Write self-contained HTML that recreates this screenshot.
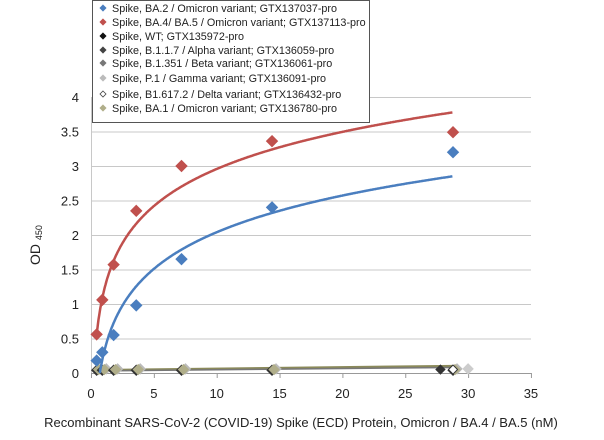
<!DOCTYPE html>
<html><head><meta charset="utf-8"><style>
body{margin:0;background:#fff;width:604px;height:440px;overflow:hidden}
svg{display:block;font-family:"Liberation Sans",sans-serif}
</style></head><body>
<svg id="s" width="604" height="440" xmlns="http://www.w3.org/2000/svg">
<g id="grid" stroke="#c8c8c8" stroke-width="1"></g>
<g id="ticks" font-size="13" fill="#222"></g>
<g id="data"></g>
<rect x="92.5" y="0.5" width="277" height="122" fill="#fff" stroke="#555"/>
<g font-size="10.8" fill="#222">
<text x="112" y="12">Spike, BA.2 / Omicron variant; GTX137037-pro</text>
<text x="112" y="26">Spike, BA.4/ BA.5 / Omicron variant; GTX137113-pro</text>
<text x="112" y="40">Spike, WT; GTX135972-pro</text>
<text x="112" y="54">Spike, B.1.1.7 / Alpha variant; GTX136059-pro</text>
<text x="112" y="67">Spike, B.1.351 / Beta variant; GTX136061-pro</text>
<text x="112" y="82">Spike, P.1 / Gamma variant; GTX136091-pro</text>
<text x="112" y="98">Spike, B1.617.2 / Delta variant; GTX136432-pro</text>
<text x="112" y="112">Spike, BA.1 / Omicron variant; GTX136780-pro</text>
</g>
<g id="leg"></g>
<text x="40" y="245" font-size="14" fill="#222" transform="rotate(-90 40 245)" text-anchor="middle">OD <tspan font-size="9" dy="2">450</tspan></text>
<text x="301" y="427" font-size="13" fill="#222" text-anchor="middle">Recombinant SARS-CoV-2 (COVID-19) Spike (ECD) Protein, Omicron / BA.4 / BA.5 (nM)</text>
</svg>
<script>
var X=function(v){return 91+v*12.57},Y=function(v){return 373-v*69};
var g=document.getElementById('grid'),t=document.getElementById('ticks'),d=document.getElementById('data'),ns='http://www.w3.org/2000/svg';
function el(p,n,a){var e=document.createElementNS(ns,n);for(var k in a)e.setAttribute(k,a[k]);p.appendChild(e);return e}
for(var i=1;i<=8;i++){var y=Y(i*0.5);el(g,'line',{x1:91,x2:531,y1:y+.5,y2:y+.5});}
el(g,'line',{x1:91.5,x2:91.5,y1:97,y2:373});
el(g,'line',{x1:91,x2:531,y1:373.5,y2:373.5,stroke:'#999'});
for(var i=0;i<=8;i++){var e=el(t,'text',{x:79,y:Y(i*0.5)+5,'text-anchor':'end'});e.textContent=(i*0.5).toString();}
for(var i=0;i<=7;i++){var e=el(t,'text',{x:X(i*5),y:398,'text-anchor':'middle'});e.textContent=i*5;el(g,'line',{x1:X(i*5)+.5,x2:X(i*5)+.5,y1:373,y2:378,stroke:'#999'});}
var xs=[0.45,0.9,1.8,3.6,7.2,14.4,28.8];
function curve(a,b,x0,c){var p='';for(var x=x0;x<=28.8;x+=0.05){var v=Math.max(0,a+b*Math.log(x));p+=(p?'L':'M')+X(x).toFixed(1)+','+Y(v).toFixed(1);}el(d,'path',{d:p,fill:'none',stroke:c,'stroke-width':2.5});}
function dia(x,y,r,c,s){el(d,'path',{d:'M'+x+','+(y-r)+'L'+(x+r)+','+y+'L'+x+','+(y+r)+'L'+(x-r)+','+y+'Z',fill:c,stroke:s||c,'stroke-width':1});}
el(d,'line',{x1:X(0.45),y1:Y(0.04),x2:X(28.8),y2:Y(0.1),stroke:'#8b8a5a','stroke-width':2.5});
el(d,'line',{x1:X(0.45),y1:Y(0.03),x2:X(28.8),y2:Y(0.08),stroke:'#777','stroke-width':1.5});
[0.45,0.9,1.8,3.6,7.2,14.4,28.8].forEach(function(x){dia(X(x),Y(0.04),5,'#333');dia(X(x)+4,Y(0.06),5,'#bbb');dia(X(x)+2,Y(0.05),5,'#b0ae8a');});
dia(X(27.8),Y(0.05),4.5,'#333');dia(X(30),Y(0.06),5,'#ccc');dia(X(28.8),Y(0.05),4.5,'#fff','#333');
curve(0.274,0.767,0.7,'#4a7ebf');
curve(1.17,0.776,0.45,'#c0504d');
var bl=[0.18,0.3,0.55,0.98,1.65,2.4,3.2],rd=[0.56,1.06,1.57,2.35,3.0,3.36,3.49];
xs.forEach(function(x,i){dia(X(x),Y(bl[i]),5.5,'#4a7ebf');dia(X(x),Y(rd[i]),5.5,'#c0504d');});
var l=document.getElementById('leg'),lc=['#4a7ebf','#c0504d','#111','#444','#777','#bbb','#fff','#b0ae8a'],ly=[8,22,36,50,63,78,94,108];
lc.forEach(function(c,i){var x=103,y=ly[i],r=3;el(l,'path',{d:'M'+x+','+(y-r)+'L'+(x+r)+','+y+'L'+x+','+(y+r)+'L'+(x-r)+','+y+'Z',fill:c,stroke:i==6?'#444':c,'stroke-width':.8});});
</script>
</body></html>
